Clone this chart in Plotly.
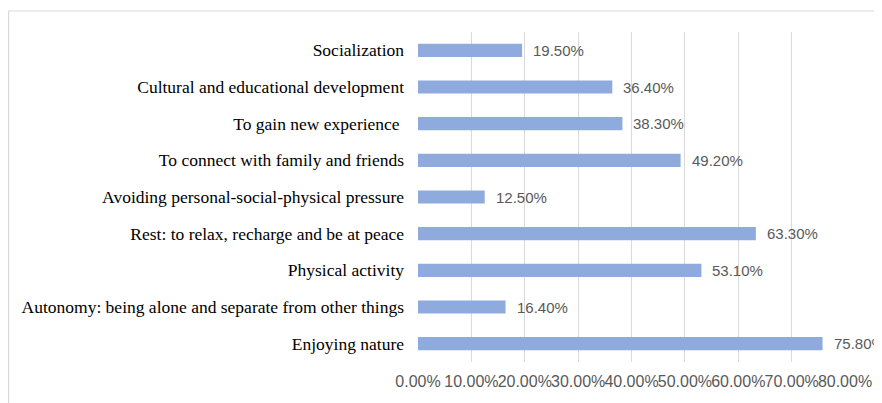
import plotly.graph_objects as go

categories = [
    "Enjoying nature",
    "Autonomy: being alone and separate from other things",
    "Physical activity",
    "Rest: to relax, recharge and be at peace",
    "Avoiding personal-social-physical pressure",
    "To connect with family and friends",
    "To gain new experience ",
    "Cultural and educational development",
    "Socialization",
]
values = [75.8, 16.4, 53.1, 63.3, 12.5, 49.2, 38.3, 36.4, 19.5]
tick_vals = [0, 10, 20, 30, 40, 50, 60, 70, 80]
tick_text = ["0.00%", "10.00%", "20.00%", "30.00%", "40.00%", "50.00%", "60.00%", "70.00%", "80.00%"]

W, H = 882, 403
# page body has an 8px margin, so figure coords = screen coords - 8
L, R, T, B = 410, 45, 24, 49

fig = go.Figure(go.Bar(
    x=values, y=categories, orientation="h",
    marker=dict(color="#8faadc", line=dict(width=0)),
    width=0.36,
))

for v, c in zip(values, categories):
    fig.add_annotation(x=v, y=c, text=f"{v:.2f}%", showarrow=False,
                       xanchor="left", xshift=9,
                       font=dict(family="Liberation Sans, Arial", size=15, color="#595959"))

pw = W - L - R
ph = H - T - B
fx = (0.6 - L) / pw
fy = 1 + (T - 3) / ph
fig.add_shape(type="line", xref="paper", yref="paper",
              x0=fx, x1=fx, y0=-0.3, y1=fy,
              line=dict(color="#d9d9d9", width=1.2))
fig.add_shape(type="line", xref="paper", yref="paper",
              x0=fx, x1=1.3, y0=fy, y1=fy,
              line=dict(color="#d9d9d9", width=1.2))

fig.update_layout(
    width=W, height=H,
    margin=dict(l=L, r=R, t=T, b=B, autoexpand=False),
    paper_bgcolor="white", plot_bgcolor="white",
    showlegend=False,
    xaxis=dict(range=[0, 80], tickvals=tick_vals, ticktext=tick_text,
               tickangle=0, automargin=False,
               showgrid=True, gridcolor="#d9d9d9", gridwidth=1,
               zeroline=False, showline=False, ticks="",
               ticklabelstandoff=8,
               tickfont=dict(family="Liberation Sans, Arial", size=16, color="#595959")),
    yaxis=dict(showgrid=False, zeroline=False, showline=False, ticks="",
               automargin=False,
               ticklabelstandoff=13,
               tickfont=dict(family="Liberation Serif, Times New Roman", size=17.5, color="#000000")),
)
fig.write_html("out.html")
